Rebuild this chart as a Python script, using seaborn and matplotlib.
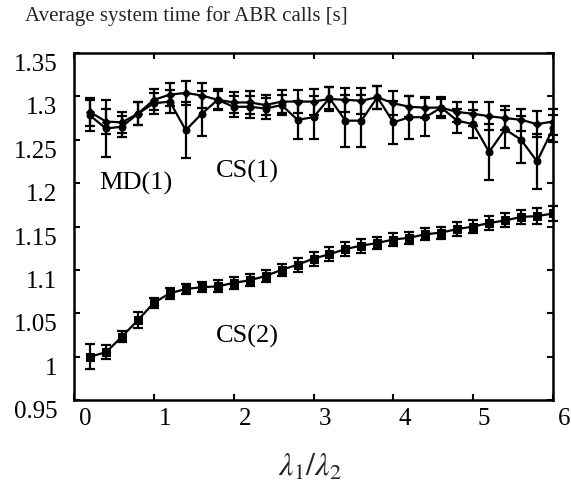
import matplotlib
matplotlib.use("Agg")
import matplotlib.pyplot as plt
from matplotlib.transforms import ScaledTranslation
import seaborn as sns
import pandas as pd

# ---- data ----
x_vals = [0.2, 0.4, 0.6, 0.8, 1.0, 1.2, 1.4, 1.6, 1.8, 2.0,
          2.2, 2.4, 2.6, 2.8, 3.0, 3.2, 3.4, 3.6, 3.8, 4.0,
          4.2, 4.4, 4.6, 4.8, 5.0, 5.2, 5.4, 5.6, 5.8, 6.0]

cs1 = [1.282, 1.271, 1.270, 1.280, 1.296, 1.302, 1.304, 1.301, 1.296, 1.293,
       1.293, 1.290, 1.294, 1.294, 1.294, 1.297, 1.296, 1.295, 1.299, 1.292,
       1.288, 1.287, 1.287, 1.282, 1.280, 1.277, 1.275, 1.273, 1.268, 1.271]
cs1_err = [0.016, 0.014, 0.012, 0.013, 0.012, 0.013, 0.014, 0.014, 0.012, 0.012,
           0.013, 0.012, 0.013, 0.013, 0.015, 0.014, 0.014, 0.015, 0.013, 0.014,
           0.012, 0.012, 0.012, 0.012, 0.014, 0.016, 0.014, 0.013, 0.015, 0.015]

md1 = [1.278, 1.263, 1.265, 1.280, 1.292, 1.294, 1.261, 1.280, 1.296, 1.288,
       1.288, 1.286, 1.290, 1.273, 1.276, 1.298, 1.272, 1.272, 1.299, 1.270,
       1.276, 1.276, 1.287, 1.272, 1.268, 1.236, 1.262, 1.250, 1.225, 1.263]
md1_err = [0.018, 0.033, 0.012, 0.013, 0.012, 0.013, 0.032, 0.026, 0.010, 0.012,
           0.013, 0.012, 0.012, 0.022, 0.025, 0.013, 0.030, 0.030, 0.013, 0.025,
           0.025, 0.022, 0.010, 0.014, 0.016, 0.032, 0.022, 0.027, 0.032, 0.016]

cs2 = [1.000, 1.005, 1.023, 1.042, 1.062, 1.073, 1.078, 1.080, 1.081, 1.085,
       1.088, 1.093, 1.100, 1.106, 1.113, 1.118, 1.124, 1.128, 1.131, 1.135,
       1.137, 1.141, 1.143, 1.147, 1.150, 1.154, 1.157, 1.161, 1.162, 1.165]
cs2_err = [0.014, 0.008, 0.006, 0.009, 0.006, 0.006, 0.006, 0.006, 0.007, 0.007,
           0.007, 0.007, 0.007, 0.008, 0.008, 0.008, 0.008, 0.008, 0.007, 0.007,
           0.007, 0.007, 0.007, 0.008, 0.008, 0.008, 0.008, 0.008, 0.009, 0.009]

series_labels = ["CS(1)", "MD(1)", "CS(2)"]
annot_pos = {"MD(1)": (0.78, 1.200), "CS(1)": (2.17, 1.214), "CS(2)": (2.17, 1.023)}
x_ticks = [0, 1, 2, 3, 4, 5, 6]
y_ticks = [0.95, 1.0, 1.05, 1.1, 1.15, 1.2, 1.25, 1.3, 1.35]
y_tick_labels = ["0.95", "1", "1.05", "1.1", "1.15", "1.2", "1.25", "1.3", "1.35"]
title = "Average system time for ABR calls [s]"
x_label = r"$\lambda_1/\lambda_2$"

# ---- style ----
sns.set_theme(style="ticks")
plt.rcParams["font.family"] = ["Liberation Serif", "DejaVu Serif"]
plt.rcParams["mathtext.fontset"] = "stix"

fig = plt.figure(figsize=(5.71, 4.90), dpi=100)
ax = fig.add_axes([74 / 571, 90 / 490, (553 - 74) / 571, (400 - 53) / 490])

df = pd.concat([
    pd.DataFrame({"x": x_vals, "y": cs1, "err": cs1_err, "series": series_labels[0]}),
    pd.DataFrame({"x": x_vals, "y": md1, "err": md1_err, "series": series_labels[1]}),
    pd.DataFrame({"x": x_vals, "y": cs2, "err": cs2_err, "series": series_labels[2]}),
], ignore_index=True)

markers = {"CS(1)": "D", "MD(1)": "o", "CS(2)": "s"}
msize = {"CS(1)": 4, "MD(1)": 5, "CS(2)": 5.5}
for name in series_labels:
    sub = df[df["series"] == name]
    sns.lineplot(data=sub, x="x", y="y", ax=ax, color="black", lw=1.6,
                 marker=markers[name], markersize=msize[name],
                 markeredgecolor="black", markerfacecolor="black",
                 legend=False, errorbar=None, sort=False)
    ax.errorbar(sub["x"], sub["y"], yerr=sub["err"], fmt="none", ecolor="black",
                elinewidth=1.6, capsize=3.5, capthick=1.6, clip_on=False, zorder=3)

for name, (tx, ty) in annot_pos.items():
    ax.text(tx, ty, name, fontsize=19, ha="center", va="center", color="black")

ax.set_xlim(0, 6)
ax.set_ylim(0.95, 1.35)
ax.set_xticks(x_ticks)
ax.set_xticklabels([str(t) for t in x_ticks])
ax.set_yticks(y_ticks)
ax.set_yticklabels(y_tick_labels)
ax.tick_params(direction="in", top=True, right=True, length=4.5, width=1.5,
               labelsize=18, colors="black")
ax.tick_params(axis="y", pad=12)
ax.tick_params(axis="x", pad=6)
for s in ax.spines.values():
    s.set_linewidth(1.8)
    s.set_color("black")

for t in ax.xaxis.get_major_ticks():
    t.label1.set_transform(t.label1.get_transform() + ScaledTranslation(0.11, 0, fig.dpi_scale_trans))
for t in ax.yaxis.get_major_ticks():
    t.label1.set_transform(t.label1.get_transform() + ScaledTranslation(0, -0.095, fig.dpi_scale_trans))

ax.set_xlabel(x_label, fontsize=23)
ax.set_ylabel("")
ax.xaxis.set_label_coords((310 - 74) / 479, (400 - 468) / 347)
ax.xaxis.label.set_va("center")

fig.text(25 / 571, 1 - 21 / 490, title, fontsize=15, ha="left", va="baseline")

fig.savefig("out.png", dpi=100)
